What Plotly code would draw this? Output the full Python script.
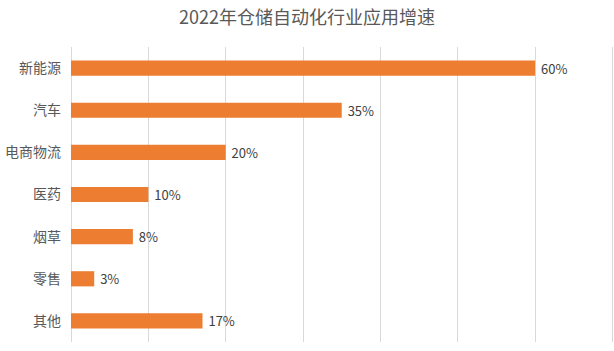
import plotly.graph_objects as go

categories = ["新能源", "汽车", "电商物流", "医药", "烟草", "零售", "其他"]
values = [60, 35, 20, 10, 8, 3, 17]
title_text = "2022年仓储自动化行业应用增速"

fig = go.Figure()
fig.add_trace(go.Bar(
    y=categories,
    x=values,
    orientation="h",
    marker=dict(color="#ED7D31", line=dict(width=0)),
    width=0.36,
    text=["\u00a0" + f"{v}%" for v in values],
    textposition="outside",
    constraintext="none",
    textfont=dict(size=13, color="#404040", family="Noto Sans CJK SC"),
    cliponaxis=False,
))

fig.update_layout(
    width=614, height=351,
    margin=dict(l=71, r=0, t=47, b=9),
    paper_bgcolor="white", plot_bgcolor="white",
    title=dict(text=title_text, x=0.5, xanchor="center", y=0.95, yanchor="middle",
               font=dict(size=18, color="#595959", family="Noto Sans CJK SC")),
    showlegend=False,
    bargap=0.64,
)
fig.update_xaxes(range=[0, 70.2], dtick=10, tick0=0, showticklabels=False,
                 showgrid=True, gridcolor="#D9D9D9", gridwidth=1,
                 zeroline=True, zerolinecolor="#D9D9D9", zerolinewidth=1,
                 showline=False, fixedrange=True)
fig.update_yaxes(categoryorder="array", categoryarray=categories, autorange="reversed",
                 tickfont=dict(size=14, color="#595959", family="Noto Sans CJK SC"),
                 ticks="", ticklabelstandoff=9, showgrid=False, showline=False)

fig.write_html("out.html")
